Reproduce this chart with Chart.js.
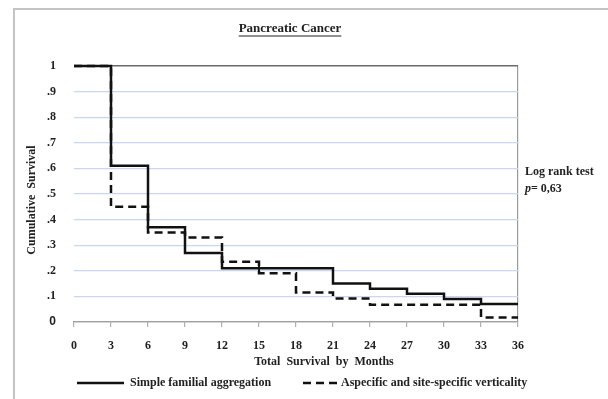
<!DOCTYPE html>
<html>
<head>
<meta charset="utf-8">
<script src="https://cdn.jsdelivr.net/npm/chart.js@4"></script>
<style>
  html, body { margin: 0; padding: 0; background: #fff; }
  #wrap { width: 608px; height: 399px; position: relative; }
</style>
</head>
<body>
<div id="wrap"><canvas id="kmChart"></canvas></div>
<script>
// survival data
var monthTicks = [0, 3, 6, 9, 12, 15, 18, 21, 24, 27, 30, 33, 36];

var solidTimes = [0, 3, 6, 9, 12, 21, 24, 27, 30, 33, 36];
var solidSurv = [1, 0.61, 0.37, 0.27, 0.21, 0.15, 0.13, 0.11, 0.09, 0.07, 0.07];
var solidCensored = [15];

var dashTimes = [0, 3, 6, 9, 12, 15, 18, 21, 24, 33, 36];
var dashSurv = [1, 0.45, 0.35, 0.33, 0.235, 0.19, 0.115, 0.092, 0.067, 0.018, 0.018];

var seriesNames = ['Simple familial aggregation', 'Aspecific and site-specific verticality'];
var chartTitle = 'Pancreatic Cancer';
var xTitle = 'Total  Survival  by  Months';
var yTitle = 'Cumulative  Survival';
var testLines = ['Log rank test', '0,63'];

function toPoints(times, vals) {
    return times.map(function (t, i) { return { x: t, y: vals[i] }; });
}
// survival value at time t from the step function
function stepValue(times, vals, t) {
    var v = vals[0];
    for (var i = 0; i < times.length; i++) {
        if (times[i] <= t) v = vals[i];
    }
    return v;
}

var serif = "'Liberation Serif', 'Times New Roman', serif";
var gridBlue = '#c8d8ef';

var extras = {
    id: 'extras',
    beforeDraw: function (chart) {
        var c = chart.ctx;
        c.save();
        c.fillStyle = '#fff';
        c.fillRect(0, 0, chart.width, chart.height);
        // outer frame (left and top)
        c.strokeStyle = '#c4c4c4';
        c.lineWidth = 2;
        c.beginPath();
        c.moveTo(14, chart.height);
        c.lineTo(14, 9);
        c.lineTo(chart.width, 9);
        c.stroke();
        c.restore();
    },
    afterDraw: function (chart) {
        var c = chart.ctx;
        var area = chart.chartArea;
        c.save();
        c.fillStyle = '#222';
        c.textBaseline = 'middle';

        // title, underlined
        c.font = 'bold 13px ' + serif;
        c.textAlign = 'center';
        c.fillText(chartTitle, 290, 29);
        var w = c.measureText(chartTitle).width;
        c.strokeStyle = '#222';
        c.lineWidth = 1.2;
        c.beginPath();
        c.moveTo(290 - w / 2, 36);
        c.lineTo(290 + w / 2, 36);
        c.stroke();

        // axis titles
        c.font = 'bold 12px ' + serif;
        c.fillText(xTitle, 324, 362);
        c.save();
        c.translate(32, 200);
        c.rotate(-Math.PI / 2);
        c.fillText(yTitle, 0, 0);
        c.restore();

        // log rank note
        c.textAlign = 'left';
        c.font = 'bold 12px ' + serif;
        c.fillText(testLines[0], area.right + 7, 172);
        c.font = 'italic bold 12px ' + serif;
        c.fillText('p', area.right + 7, 189);
        var pw = c.measureText('p').width;
        c.font = 'bold 12px ' + serif;
        c.fillText('= ' + testLines[1], area.right + 7 + pw, 189);

        // legend
        var ds = chart.data.datasets;
        var items = [
            { x0: 77, x1: 124, tx: 130 },
            { x0: 303, x1: 339, tx: 341 }
        ];
        c.font = 'bold 12px ' + serif;
        for (var i = 0; i < 2; i++) {
            c.strokeStyle = ds[i].borderColor;
            c.lineWidth = 2.5;
            c.setLineDash(ds[i].borderDash || []);
            c.beginPath();
            c.moveTo(items[i].x0, 383);
            c.lineTo(items[i].x1, 383);
            c.stroke();
            c.setLineDash([]);
            c.fillText(ds[i].label, items[i].tx, 383);
        }
        c.restore();
    }
};

var ctx = document.getElementById('kmChart').getContext('2d');
var kmChart = new Chart(ctx, {
    type: 'line',
    data: {
        datasets: [{
            label: seriesNames[0],
            data: toPoints(solidTimes, solidSurv),
            borderColor: '#111',
            borderWidth: 2.5,
            stepped: 'before',
            pointRadius: 0,
            fill: false,
            clip: false
        }, {
            label: seriesNames[1],
            data: toPoints(dashTimes, dashSurv),
            borderColor: '#111',
            borderWidth: 2.5,
            borderDash: [8, 5],
            stepped: 'before',
            pointRadius: 0,
            fill: false,
            clip: false
        }, {
            label: 'censored',
            data: solidCensored.map(function (t) {
                return { x: t, y: stepValue(solidTimes, solidSurv, t) };
            }),
            showLine: false,
            pointStyle: 'line',
            pointRotation: 90,
            pointRadius: 5,
            pointBorderColor: '#111',
            pointBorderWidth: 2,
            clip: false
        }]
    },
    plugins: [extras],
    options: {
        responsive: true,
        maintainAspectRatio: false,
        animation: false,
        layout: {
            padding: { left: 0, right: 90, top: 66, bottom: 0 }
        },
        plugins: {
            legend: { display: false },
            title: { display: false },
            tooltip: { enabled: false }
        },
        scales: {
            x: {
                type: 'linear',
                min: 0,
                max: 36,
                afterBuildTicks: function (scale) {
                    scale.ticks = monthTicks.map(function (v) { return { value: v }; });
                },
                afterFit: function (scale) { scale.height = 77; },
                grid: {
                    color: function (c) { return c.tick && c.tick.value === 36 ? '#9a9a9a' : 'rgba(0,0,0,0)'; },
                    tickColor: '#b0b0b0',
                    tickLength: 5,
                    lineWidth: 1.2
                },
                border: { display: true, color: '#a0a0a0', width: 1.2 },
                ticks: {
                    color: '#222',
                    padding: 12,
                    maxRotation: 0,
                    font: { family: serif, size: 12, weight: 'bold' }
                }
            },
            y: {
                min: 0,
                max: 1,
                afterFit: function (scale) { scale.width = 74; },
                ticks: {
                    stepSize: 0.1,
                    color: '#222',
                    padding: 18,
                    font: function (c) {
                        if (c.tick && c.tick.value === 0) {
                            return { family: "'Liberation Sans', Arial, sans-serif", size: 12, weight: 'bold' };
                        }
                        return { family: serif, size: 12, weight: 'bold' };
                    },
                    callback: function (v) {
                        var n = Math.round(v * 10);
                        if (n === 0) return '0';
                        if (n === 10) return '1';
                        return '.' + n;
                    }
                },
                grid: {
                    drawTicks: false,
                    color: function (c) {
                        if (!c.tick) return gridBlue;
                        var n = Math.round(c.tick.value * 10);
                        if (n === 10) return '#6a6a6a';
                        if (n === 0) return '#a0a0a0';
                        return gridBlue;
                    },
                    lineWidth: function (c) {
                        return c.tick && Math.round(c.tick.value * 10) === 10 ? 1.5 : 1.2;
                    }
                },
                border: { display: false }
            }
        }
    }
});
</script>
</body>
</html>
